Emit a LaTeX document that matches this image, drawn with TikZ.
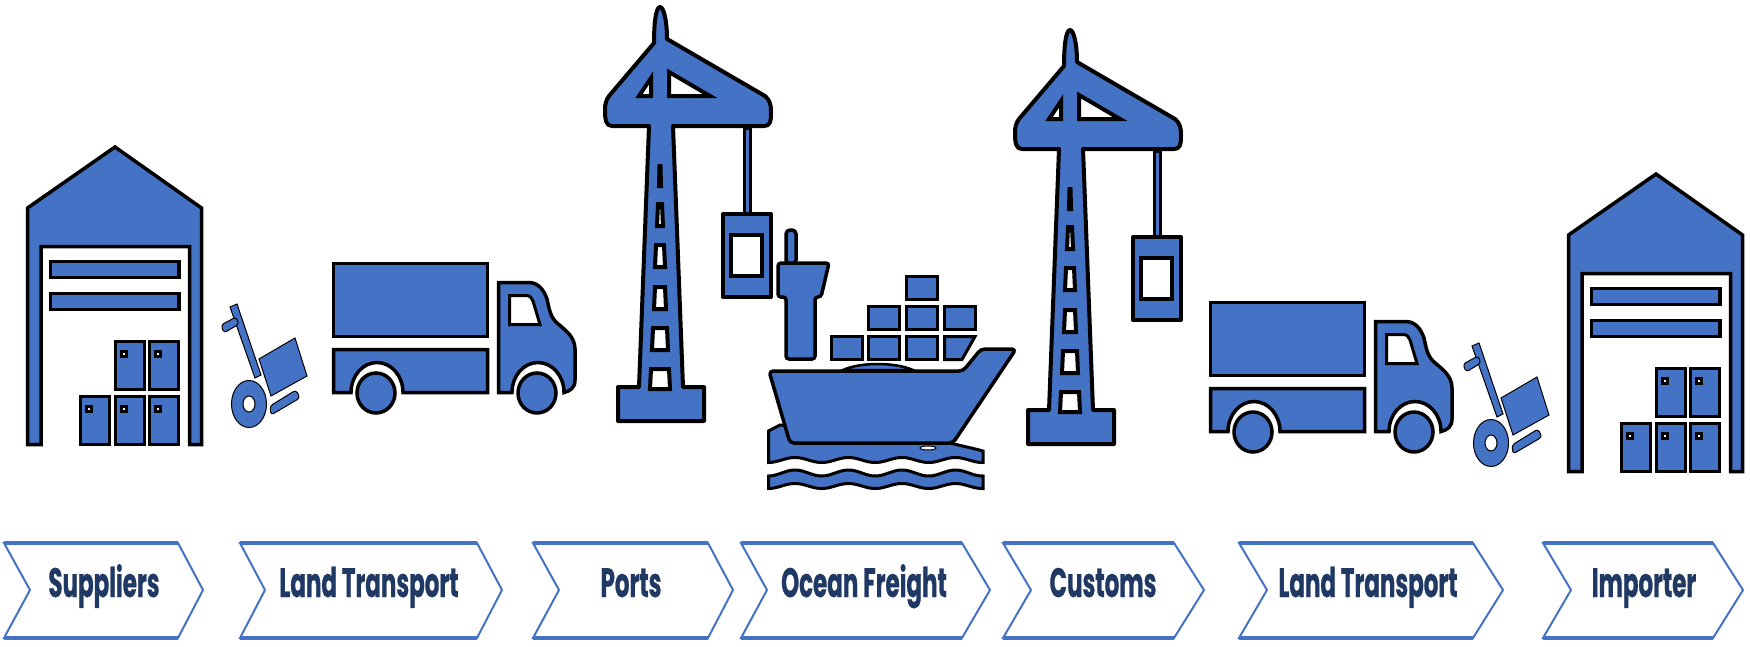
\documentclass[tikz,border=0pt]{standalone}
\usepackage{fontspec}
\newfontfamily\lblfont[FakeStretch=0.56,FakeBold=0.6]{Poppins}
\definecolor{iconblue}{HTML}{4472C4}
\definecolor{lblnavy}{HTML}{1F3864}
\tikzset{
	icon/.style={draw=black, fill=iconblue, line width=3.5pt, line join=miter},
	hole/.style={draw=black, fill=white, line width=3pt},
	craneline/.style={draw=black, fill=iconblue, line width=4pt, line join=round},
	cranehole/.style={draw=black, fill=white, line width=4pt},
	thin icon/.style={draw=black, fill=iconblue, line width=1pt},
	lbl/.style={font=\lblfont\bfseries\fontsize{41}{41}\selectfont, text=lblnavy, anchor=base},
	% warehouse with its door, slats and boxes
	warehouse/.pic={
		\draw[icon] (27.5,444.5) -- (27.5,208) -- (115,147) -- (201.5,208) -- (201.5,444.5) -- (189.5,444.5) -- (189.5,246.5) -- (41,246.5) -- (41,444.5) -- cycle;
		\draw[icon] (50.5,261.5) rectangle (179,277.5);
		\draw[icon] (50.5,293.5) rectangle (179,309.5);
		\foreach \bx/\by in {79/395, 114/395, 148/395, 114/340, 148/340} {
			\draw[icon, line width=3pt] (\bx+1.5,\by+1.5) rectangle ++(29,48);
			\draw[hole] (\bx+7,\by+11) rectangle ++(5,5);
		}
	},
	% hand trolley
	trolley/.pic={
		\draw[thin icon] (230,307) -- (237,304) -- (261,375) -- (255,378) -- cycle;
		\draw[thin icon, rounded corners=3pt] (221,325) -- (236,317) -- (239,324) -- (224,333) -- cycle;
		\draw[thin icon] (259,359) -- (295,338) -- (307,376) -- (271,396) -- cycle;
		\draw[thin icon, even odd rule] (249,404) ellipse [x radius=17.5, y radius=23.5] (249,404) ellipse [x radius=6, y radius=8];
		\draw[thin icon, rounded corners=3pt] (270,406) -- (296,390) -- (300,398) -- (271,415) -- cycle;
	},
	% truck: box, chassis, cab, wheels
	truck/.pic={
		\draw[icon] (333.5,263.5) rectangle (487.5,336.5);
		\draw[icon] (333.5,349.5) -- (487.5,349.5) -- (487.5,392.5) -- (403,392.5) arc[start angle=0, end angle=-180, x radius=26, y radius=30] -- (333.5,392.5) -- cycle;
		\draw[icon] (498.5,392.5) -- (498.5,282.5) -- (529,282.5) .. controls (538,282.5) and (544,290) .. (547,299) .. controls (549,308) and (550,316) .. (556,322) .. controls (562,328) and (575,335) .. (575,349) -- (575,380) .. controls (575,388) and (570,391) .. (564,392.5) arc[start angle=0, end angle=-180, x radius=26, y radius=30] -- cycle;
		\draw[hole] (509.5,295.5) -- (526,295.5) .. controls (530,295.5) and (532,298) .. (533,301) -- (540,324.5) -- (509.5,324.5) -- cycle;
		\draw[icon] (376,393) ellipse [x radius=19, y radius=20];
		\draw[icon] (537,393) ellipse [x radius=19, y radius=20];
	},
	% crane with hanging container
	crane/.pic={
		\draw[icon, line width=3pt] (744,128) rectangle (750,214);
		\draw[craneline] (723,214) rectangle (771,297);
		\draw[cranehole] (731,235) rectangle (762,276);
		\draw[craneline] (654,43) .. controls (654,22) and (656,7) .. (660,7) .. controls (664,7) and (667,22) .. (667,39) -- (765,96) .. controls (770,100) and (771,105) .. (771,112) .. controls (771,122) and (770,126) .. (764,126) -- (673,126) -- (683,387) -- (704,387) -- (704,421) -- (618,421) -- (618,387) -- (639,387) -- (649,126) -- (612,126) .. controls (606,126) and (605,120) .. (605,110) .. controls (605,104) and (606,100) .. (609,96) -- cycle;
		\draw[cranehole] (651,78) -- (639,96) -- (651,96) -- cycle;
		\draw[cranehole] (669,72) -- (710,96) -- (669,96) -- cycle;
		\draw[cranehole] (659.5,166) -- (660.5,166) -- (661,186) -- (659,186) -- cycle;
		\draw[cranehole] (658,204) -- (662,204) -- (663,226) -- (657,226) -- cycle;
		\draw[cranehole] (656,245) -- (664,245) -- (665,267) -- (655,267) -- cycle;
		\draw[cranehole] (655,287) -- (665,287) -- (666,309) -- (654,309) -- cycle;
		\draw[cranehole] (653,328) -- (667,328) -- (668,350) -- (652,350) -- cycle;
		\draw[cranehole] (651,369) -- (669,369) -- (670,389) -- (650,389) -- cycle;
	}
}
\begin{document}
\begin{tikzpicture}[x=1pt, y=-1pt]
	\useasboundingbox (0,0) rectangle (1750,646);
	% Warehouses
	\pic at (0,0) {warehouse};
	\pic at (1541,27) {warehouse};
	% Trolleys
	\pic at (0,0) {trolley};
	\pic at (1242,39) {trolley};
	% Trucks
	\pic at (0,0) {truck};
	\pic at (877,39) {truck};
	% Cranes
	\pic at (0,0) {crane};
	\pic at (410,23) {crane};
	% Water
	\draw[icon, line width=3pt] (780,425) -- (768.5,431) -- (768.5,461) -- plot[domain=768.5:983, samples=90] (\x,{460-2.5*cos((\x-795)*6.73)}) -- (983,451) .. controls (972,448) and (962,446) .. (950,443) -- cycle;
	\draw[icon, line width=3pt] plot[domain=768.5:983, samples=90] (\x,{473-3*cos((\x-795)*6.73)}) -- plot[domain=983:768.5, samples=90] (\x,{486-2.5*cos((\x-795)*6.73)}) -- cycle;
	% Ship
	\draw[icon, line width=2.5pt] (843,370) .. controls (860,362) and (895,362) .. (913,370) -- cycle;
	\draw[craneline, line width=3.5pt, rounded corners=4pt] (769,371) -- (963,371) -- (981,349) -- (1016,349) -- (953,443) -- (790,443) -- cycle;
	\draw[draw=black, fill=white, line width=1pt] (928,448) ellipse [x radius=8, y radius=2];
	\draw[icon, rounded corners=4pt] (786,264) -- (786,230) -- (796,230) -- (796,264) -- cycle;
	\draw[icon, rounded corners=3pt] (778,263) -- (829,263) -- (821,297) -- (815,297) -- (815,359) -- (786,359) -- (786,297) -- (778,297) -- cycle;
	% Containers on deck
	\foreach \cx/\cy in {905/275, 867/305, 905/305, 943/305, 830/335, 867/335, 905/335} {
		\draw[icon, line width=3pt] (\cx+1.5,\cy+1.5) rectangle ++(31,23);
	}
	\draw[icon, line width=3pt] (944.5,336.5) -- (975,336.5) -- (962,359.5) -- (944.5,359.5) -- cycle;
	% Label arrows
	\foreach \lx/\nx/\rx/\tx/\mx/\txt/\nm in {
		4/30/178/203/104/Suppliers/sup, 240/265/477/502/369/Land Transport/landa, 533/559/708/733/631/Ports/ports,
		741/767/962/990/864/Ocean Freight/ocean, 1003/1031/1174/1204/1103/Customs/cust,
		1239/1267/1473/1503/1368/Land Transport/landb, 1543/1571/1713/1743/1644/Importer/imp} {
		\draw[draw=iconblue, line width=2pt] (\lx,543) -- (\rx,543) -- (\tx,590) -- (\rx,638) -- (\lx,638) -- (\nx,590) -- cycle;
		\draw[iconblue, line width=4pt] (\lx,543) -- (\rx,543) (\lx,638) -- (\rx,638);
		\node[lbl] (\nm) at (\mx,597) {\txt};
	}
\end{tikzpicture}
\end{document}
